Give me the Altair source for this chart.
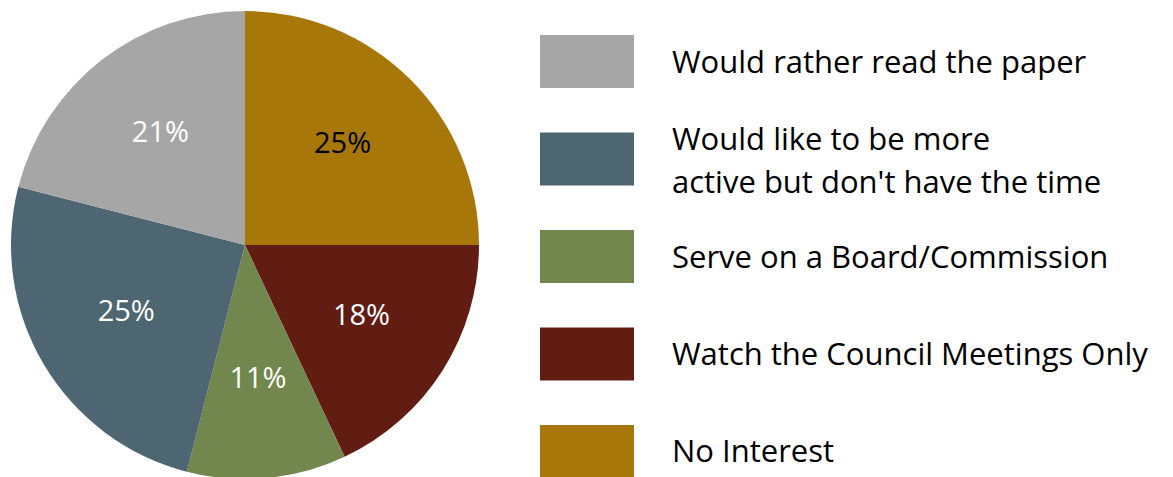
import altair as alt
import pandas as pd

# Slices in clockwise order starting at 12 o'clock
categories = [
    "No Interest",
    "Watch the Council Meetings Only",
    "Serve on a Board/Commission",
    "Would like to be more active but don't have the time",
    "Would rather read the paper",
]
values = [25, 18, 11, 25, 21]
pct_labels = ["25%", "18%", "11%", "25%", "21%"]
legend_labels = [
    "No Interest",
    "Watch the Council Meetings Only",
    "Serve on a Board/Commission",
    "Would like to be more\nactive but don't have the time",
    "Would rather read the paper",
]
colors = ["#A8770A", "#621D13", "#72874E", "#4D6672", "#A6A6A6"]
legend_order = list(reversed(categories))

df = pd.DataFrame({
    "category": categories,
    "value": values,
    "pct": pct_labels,
    "legend_label": legend_labels,
    "order": list(range(len(categories))),
})

FONT = "Open Sans"
CX, CY, R = 237, 237, 234

color = alt.Color("category:N", scale=alt.Scale(domain=categories, range=colors), legend=None)
theta = alt.Theta("value:Q", stack=True)
order = alt.Order("order:Q")

base = alt.Chart(df)

pie = base.mark_arc(outerRadius=R).encode(
    theta=theta, color=color, order=order,
    x=alt.value(CX), y=alt.value(CY),
)

pie_text = base.mark_text(radius=138, fontSize=29, font=FONT).encode(
    theta=theta, order=order, text="pct:N",
    x=alt.value(CX), y=alt.value(CY - 3),
    color=alt.condition(alt.datum.category == "No Interest", alt.value("black"), alt.value("white")),
)

yscale = alt.Scale(domain=legend_order, range=[27, 470], paddingInner=0.456, paddingOuter=0)

legend_rect = base.mark_rect().encode(
    y=alt.Y("category:N", scale=yscale, axis=None),
    x=alt.value(532), x2=alt.value(626),
    color=color,
)

text_style = dict(align="left", baseline="middle", fontSize=31, font=FONT,
                  lineBreak="\n", lineHeight=43, color="black")
text_enc = dict(
    y=alt.Y("category:N", scale=yscale, axis=None),
    x=alt.value(664),
    text="legend_label:N",
)

multiline = "indexof(datum.legend_label, '\\n') >= 0"

legend_text_single = base.transform_filter("!(" + multiline + ")").mark_text(
    dy=2, **text_style
).encode(**text_enc)

legend_text_multi = base.transform_filter(multiline).mark_text(
    dy=-18, **text_style
).encode(**text_enc)

chart = alt.layer(pie, pie_text, legend_rect, legend_text_single, legend_text_multi).properties(
    width=1157, height=469,
    autosize=alt.AutoSizeParams(type="none"),
    padding=0,
).configure_view(stroke=None)

chart.save("out.html", embed_options={"renderer": "svg", "actions": False})
